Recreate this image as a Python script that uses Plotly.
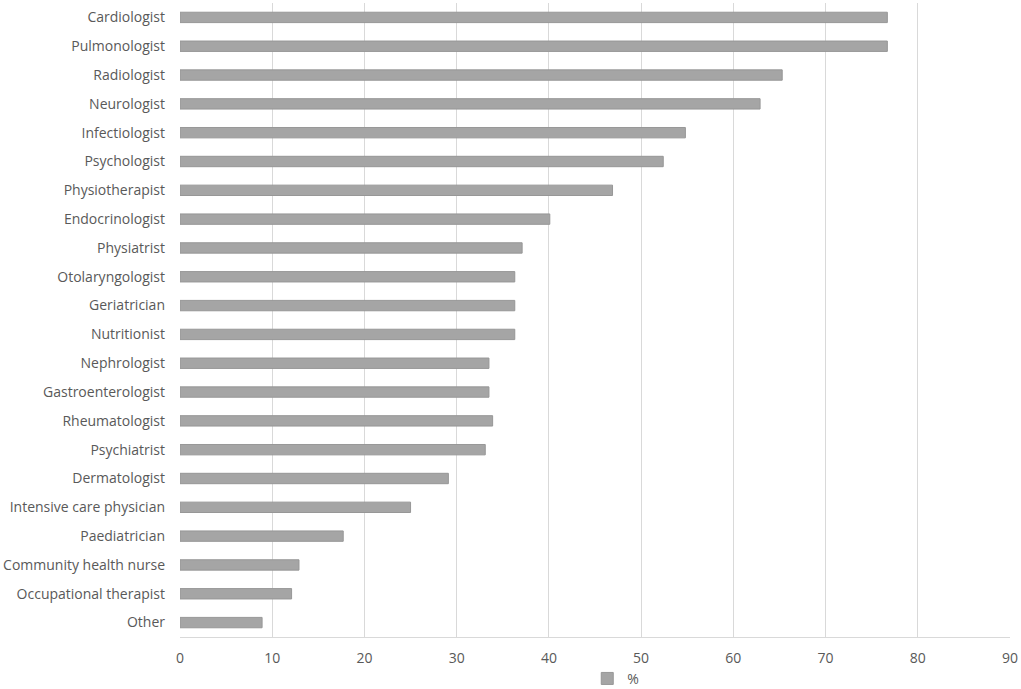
import plotly.graph_objects as go

specialists = ['Cardiologist', 'Pulmonologist', 'Radiologist', 'Neurologist', 'Infectiologist',
               'Psychologist', 'Physiotherapist', 'Endocrinologist', 'Physiatrist', 'Otolaryngologist',
               'Geriatrician', 'Nutritionist', 'Nephrologist', 'Gastroenterologist', 'Rheumatologist',
               'Psychiatrist', 'Dermatologist', 'Intensive care physician', 'Paediatrician',
               'Community health nurse', 'Occupational therapist', 'Other']
percent = [76.7, 76.7, 65.3, 62.9, 54.8, 52.4, 46.9, 40.1, 37.1, 36.3, 36.3, 36.3,
           33.5, 33.5, 33.9, 33.1, 29.1, 25.0, 17.7, 12.9, 12.1, 8.9]
x_ticks = [0, 10, 20, 30, 40, 50, 60, 70, 80, 90]

fig = go.Figure(go.Bar(
    x=percent, y=specialists, orientation='h', name='%',
    width=0.36,
    marker=dict(color='#a5a5a5', line=dict(color='#979797', width=1)),
))

fig.update_layout(
    width=1021, height=689,
    margin=dict(l=180, r=11, t=3, b=52, autoexpand=False),
    paper_bgcolor='white', plot_bgcolor='white',
    font=dict(family='Open Sans, Noto Sans, sans-serif', size=14, color='#595959'),
    showlegend=True,
    legend=dict(orientation='h', x=0.525, xanchor='center', y=-0.066, yanchor='middle',
                font=dict(size=14, color='#595959'), itemwidth=30),
    bargap=0.64,
)
fig.update_xaxes(range=[0, 90], tickvals=x_ticks, showgrid=True, gridcolor='#d9d9d9',
                 gridwidth=1, zeroline=False, showline=True, linecolor='#d9d9d9',
                 ticks='', ticklabelstandoff=8, automargin=False)
fig.update_yaxes(categoryorder='array', categoryarray=specialists, autorange='reversed',
                 showgrid=False, showline=False, ticks='', ticklabelstandoff=14,
                 automargin=False)

# drop the page's default body margin so the figure sits at the window's corner
fig.write_html("out.html", config={'displayModeBar': False},
               post_script="document.body.style.margin='0';")
